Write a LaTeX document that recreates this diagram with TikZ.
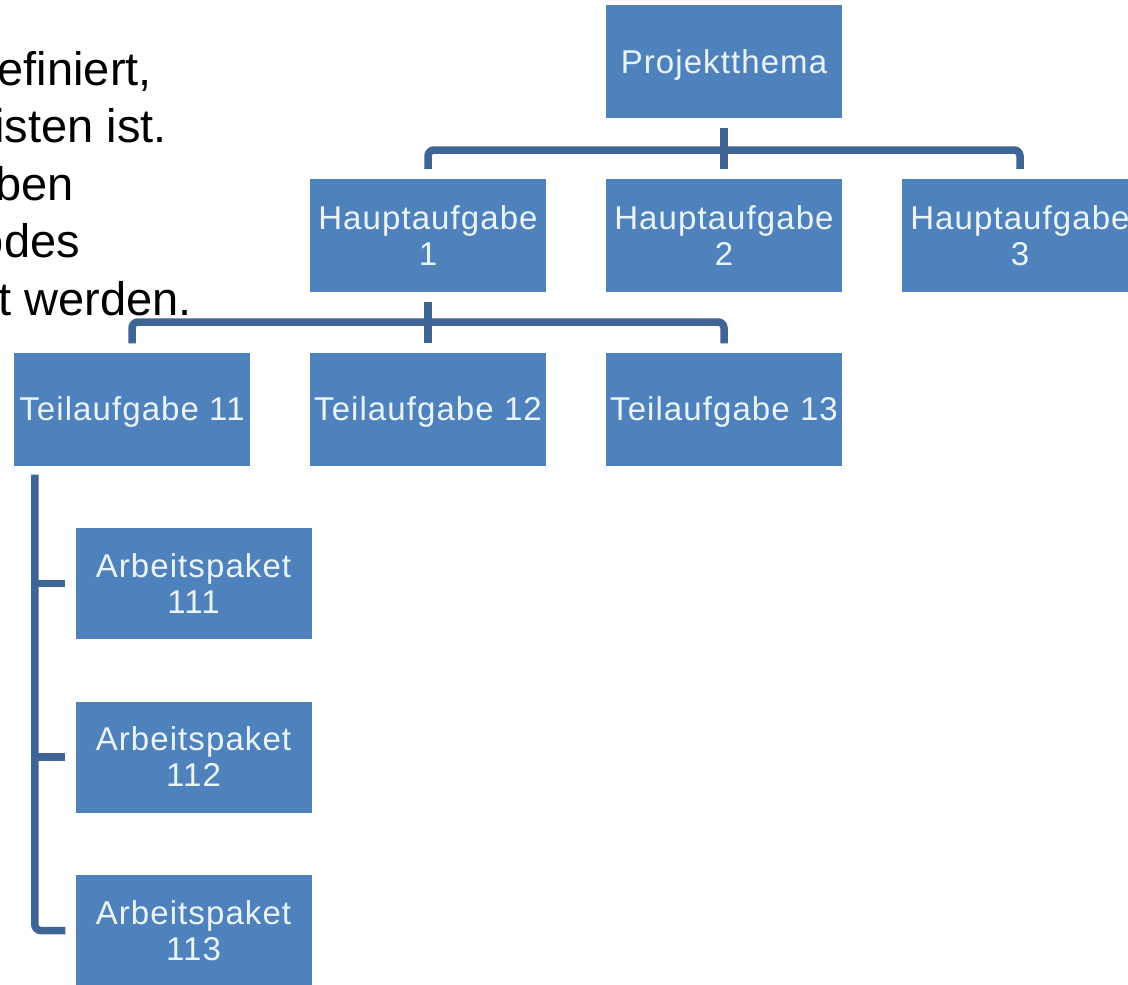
\documentclass[tikz,border=0pt]{standalone}
\usepackage{fontspec}
\setmainfont{Liberation Sans}
\newfontfamily\boxfont[LetterSpace=3.3]{Liberation Sans}
\definecolor{boxblue}{HTML}{4F81BD}
\definecolor{lineblue}{HTML}{3E6596}
\definecolor{boxtext}{HTML}{EAF5FB}
\tikzset{
  box/.style={fill=boxblue, minimum width=236pt, minimum height=113pt, inner sep=0pt,
    text=boxtext, font=\boxfont\fontsize{33}{36}\selectfont, align=center, text depth=0pt},
  oneline/.style={text height=23.6pt},
  twoline/.style={text height=59.6pt},
  conn/.style={draw=lineblue, line width=7.5pt, rounded corners=6pt},
  tick/.style={draw=lineblue, line width=7.5pt},
  lefttext/.style={font=\fontsize{47}{57}\selectfont, text=black, inner sep=0pt, anchor=base east}
}
\begin{document}
\begin{tikzpicture}[x=1pt,y=-1pt]
\useasboundingbox (0,0) rectangle (1128,985);
\clip (0,0) rectangle (1128,985);
\fill[white] (0,0) rectangle (1128,985);

% left text (clipped slide text)
\node[lefttext] (l1) at (152,85) {efiniert,};
\node[lefttext] (l2) at (167,142.5) {isten ist.};
\node[lefttext] (l3) at (74,200) {ben};
\node[lefttext] (l4) at (80,257.5) {odes};
\node[lefttext] (l5) at (192,315) {t werden.};

% boxes
\node[box,oneline] (P) at (724,61.5) {Projektthema};
\node[box,twoline] (H1) at (428,235.5) {Hauptaufgabe\\1};
\node[box,twoline] (H2) at (724,235.5) {Hauptaufgabe\\2};
\node[box,twoline] (H3) at (1020,235.5) {Hauptaufgabe\\3};
\node[box,oneline] (T11) at (132,409) {Teilaufgabe 11};
\node[box,oneline] (T12) at (428,409) {Teilaufgabe 12};
\node[box,oneline] (T13) at (724,409) {Teilaufgabe 13};
\node[box,twoline,minimum height=111pt] (A111) at (193.5,583.5) {Arbeitspaket\\111};
\node[box,twoline,minimum height=111pt] (A112) at (193.5,757) {Arbeitspaket\\112};
\node[box,twoline,minimum height=111pt] (A113) at (193.5,930.5) {Arbeitspaket\\113};

% level 1 -> 2
\coordinate (pb) at (724,150);
\draw[tick] ([yshift=-10pt]P.south) -- ([yshift=10pt]H2.north);
\draw[conn] ([yshift=10pt]H1.north) |- (pb) -| ([yshift=10pt]H3.north);

% level 2 -> 3
\coordinate (hb) at (428,322);
\draw[tick] ([yshift=-10pt]H1.south) -- ([yshift=9pt]T12.north);
\draw[conn] ([yshift=9pt]T11.north) |- (hb) -| ([yshift=9pt]T13.north);

% level 3 -> 4
\coordinate (vt) at ([xshift=21pt,yshift=-9pt]T11.south west);
\draw[conn] (vt) |- ([xshift=-10pt]A113.west);
\draw[tick] (vt|-A111.west) -- ([xshift=-10pt]A111.west);
\draw[tick] (vt|-A112.west) -- ([xshift=-10pt]A112.west);
\end{tikzpicture}
\end{document}
